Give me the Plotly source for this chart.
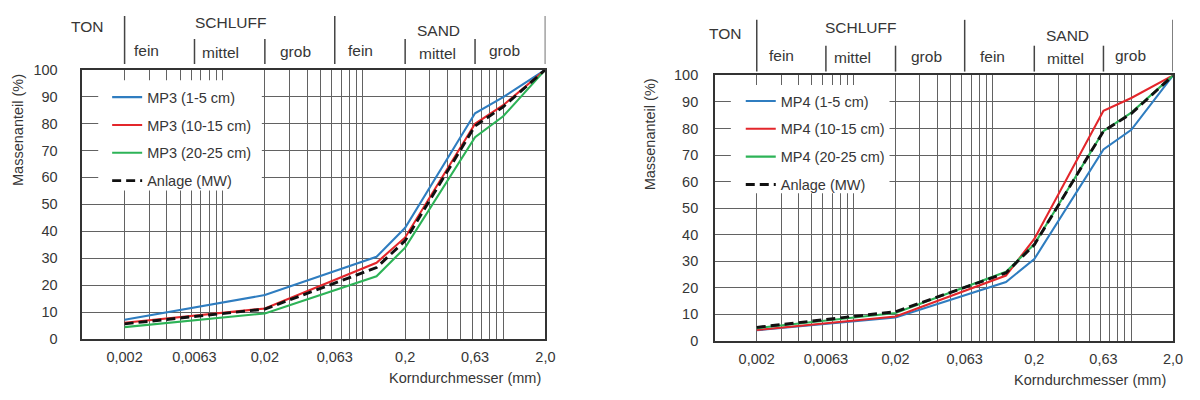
import math
import plotly.graph_objects as go

# ---------------- data ----------------
sizes = [0.002, 0.02, 0.125, 0.2, 0.63, 1.0, 2.0]  # grain size (mm)

mp3_names = ["MP3 (1-5 cm)", "MP3 (10-15 cm)", "MP3 (20-25 cm)", "Anlage (MW)"]
mp3_1_5 = [7.1, 16.3, 30.5, 41.3, 83.8, 89.8, 100]
mp3_10_15 = [6.0, 11.3, 28.3, 37.7, 79.9, 86.8, 100]
mp3_20_25 = [4.4, 9.5, 23.3, 33.9, 74.9, 82.7, 100]
mp3_mw = [5.6, 11.1, 26.5, 36.5, 79.1, 86.2, 100]

mp4_names = ["MP4 (1-5 cm)", "MP4 (10-15 cm)", "MP4 (20-25 cm)", "Anlage (MW)"]
mp4_1_5 = [4.0, 8.8, 22.2, 30.8, 72.1, 79.5, 100]
mp4_10_15 = [4.1, 9.2, 24.6, 38.4, 86.7, 91.5, 100]
mp4_20_25 = [4.8, 10.5, 26.0, 36.4, 79.0, 86.0, 100]
mp4_mw = [5.1, 11.0, 25.6, 36.2, 79.0, 85.6, 100]

tick_vals = [0.002, 0.0063, 0.02, 0.063, 0.2, 0.63, 2.0]
tick_text = ["0,002", "0,0063", "0,02", "0,063", "0,2", "0,63", "2,0"]

main_groups = ["TON", "SCHLUFF", "SAND"]
sub_groups = ["fein", "mittel", "grob", "fein", "mittel", "grob"]
major_bounds = [0.002, 0.063, 2.0]
minor_bounds = [0.0063, 0.02, 0.2, 0.63]

x_title = "Korndurchmesser (mm)"
y_title = "Massenanteil (%)"

# ---------------- styling ----------------
# the page body keeps its default 8px margin, so the figure is 16px smaller
# than the window and page pixel = figure pixel + 8
OFF = 8
W, H = 1200 - 2 * OFF, 400 - 2 * OFF
FONT = "Liberation Sans, Arial, sans-serif"
TXT = "#363636"
GRID = "#626262"
colors = ["#2F7DC0", "#E3262B", "#2DB357", "#111111"]


def px(x):
    return (x - OFF) / W


def py(y):
    return 1 - (y - OFF) / H


# log grid positions (2..9 per decade)
grid_vals = []
for e in range(-3, 1):
    for k in range(2, 10):
        grid_vals.append(k * 10 ** e)
    grid_vals.append(10 ** (e + 1))
grid_vals = [g for g in grid_vals if g <= 2.0001]

fig = go.Figure()


def add_series(names, series, xa, ya, legend):
    for i, (name, vals) in enumerate(zip(names, series)):
        is_mw = i == 3
        fig.add_trace(go.Scatter(
            x=sizes, y=vals, mode="lines", name=name,
            xaxis=xa, yaxis=ya, legend=legend, legendgroup=legend + str(i),
            line=dict(color=colors[i], width=2.9 if is_mw else 2.1,
                      dash="9px,5px" if is_mw else "solid"),
            hoverinfo="x+y+name",
        ))


add_series(mp3_names, [mp3_1_5, mp3_10_15, mp3_20_25, mp3_mw], "x", "y", "legend")
add_series(mp4_names, [mp4_1_5, mp4_10_15, mp4_20_25, mp4_mw], "x2", "y2", "legend2")

panels = [
    dict(xk="xaxis", yk="yaxis", anchor_x="y", anchor_y="x", l=83, r=550, t=64, b=345, gap=20),
    dict(xk="xaxis2", yk="yaxis2", anchor_x="y2", anchor_y="x2", l=721, r=1183, t=70, b=347, gap=12),
]

layout_axes = {}
for p in panels:
    layout_axes[p["xk"]] = dict(
        type="log", range=[-3, math.log10(2.0)],
        domain=[px(p["l"]), px(p["r"])], anchor=p["anchor_x"],
        tickmode="array", tickvals=tick_vals, ticktext=tick_text,
        showgrid=False, zeroline=False,
        minor=dict(tickmode="array", tickvals=grid_vals, showgrid=True,
                   gridcolor=GRID, gridwidth=1, ticks=""),
        showline=True, mirror=True, linecolor="#333333", linewidth=1.7,
        ticks="outside", ticklen=4, tickcolor="rgba(0,0,0,0)",
        tickfont=dict(family=FONT, size=14.5, color=TXT),
    )
    layout_axes[p["yk"]] = dict(
        range=[0, 100], tickmode="linear", tick0=0, dtick=10,
        domain=[py(p["b"]), py(p["t"])], anchor=p["anchor_y"],
        showgrid=True, gridcolor=GRID, gridwidth=1, zeroline=False,
        showline=True, mirror=True, linecolor="#333333", linewidth=1.7,
        ticks="outside", ticklen=p["gap"], tickcolor="rgba(0,0,0,0)",
        tickfont=dict(family=FONT, size=14.5, color=TXT),
    )

shapes = []
annotations = []

# white legend backgrounds covering the grid
for (x0, y0, x1, y1) in [(99, 75, 264, 190), (737, 80, 897, 193)]:
    shapes.append(dict(type="rect", xref="paper", yref="paper",
                       x0=px(x0), x1=px(x1), y0=py(y1), y1=py(y0),
                       fillcolor="#ffffff", line=dict(width=0), layer="above"))

# header separators (soil classes)
header_cfg = [
    dict(xref="x", long=(8, 58), short=(32, 58)),
    dict(xref="x2", long=(12, 66), short=(39, 66)),
]
for cfg in header_cfg:
    for b in major_bounds:
        shapes.append(dict(type="line", xref=cfg["xref"], yref="paper",
                           x0=b, x1=b, y0=py(cfg["long"][1]), y1=py(cfg["long"][0]),
                           line=dict(color="#444444", width=1.5)))
    for b in minor_bounds:
        shapes.append(dict(type="line", xref=cfg["xref"], yref="paper",
                           x0=b, x1=b, y0=py(cfg["short"][1]), y1=py(cfg["short"][0]),
                           line=dict(color="#444444", width=1.5)))

main_pos = [
    [(88, 19), (232, 15), (442, 23)],
    [(731, 26), (868, 20), (1077, 28)],
]
sub_pos = [
    [(148, 44), (222, 46), (298, 45), (363, 44), (441, 47), (509, 44)],
    [(788, 49), (860, 51), (934, 50), (1001, 50), (1075, 52), (1140, 49)],
]
for mp, sp in zip(main_pos, sub_pos):
    for label, (x, y) in zip(main_groups, mp):
        annotations.append(dict(text=label, x=px(x), y=py(y), xref="paper", yref="paper",
                                showarrow=False, xanchor="center", yanchor="middle",
                                font=dict(family=FONT, size=15.5, color=TXT)))
    for label, (x, y) in zip(sub_groups, sp):
        annotations.append(dict(text=label, x=px(x), y=py(y), xref="paper", yref="paper",
                                showarrow=False, xanchor="center", yanchor="middle",
                                font=dict(family=FONT, size=15.5, color=TXT)))

# axis titles
for (xt, yt), (yx, yy) in [((548, 386), (18, 127)), ((1178, 388), (655, 132))]:
    annotations.append(dict(text=x_title, x=px(xt), y=py(yt), xref="paper", yref="paper",
                            showarrow=False, xanchor="right", yanchor="middle",
                            font=dict(family=FONT, size=14.5, color=TXT)))
    annotations.append(dict(text=y_title, x=px(yx), y=py(yy), xref="paper", yref="paper",
                            showarrow=False, xanchor="center", yanchor="middle", textangle=-90,
                            font=dict(family=FONT, size=14.5, color=TXT)))

legend_common = dict(bgcolor="rgba(0,0,0,0)", borderwidth=0, tracegroupgap=6,
                     font=dict(family=FONT, size=14.5, color=TXT),
                     xanchor="left", yanchor="top", itemwidth=30)

fig.update_layout(
    width=W, height=H,
    margin=dict(l=0, r=0, t=0, b=0),
    paper_bgcolor="white", plot_bgcolor="white",
    font=dict(family=FONT, color=TXT),
    showlegend=True,
    legend=dict(x=px(108), y=py(76), **legend_common),
    legend2=dict(x=px(747), y=py(80), **legend_common),
    shapes=shapes,
    annotations=annotations,
    **layout_axes,
)

fig.write_html("out.html", config={"displayModeBar": False})
